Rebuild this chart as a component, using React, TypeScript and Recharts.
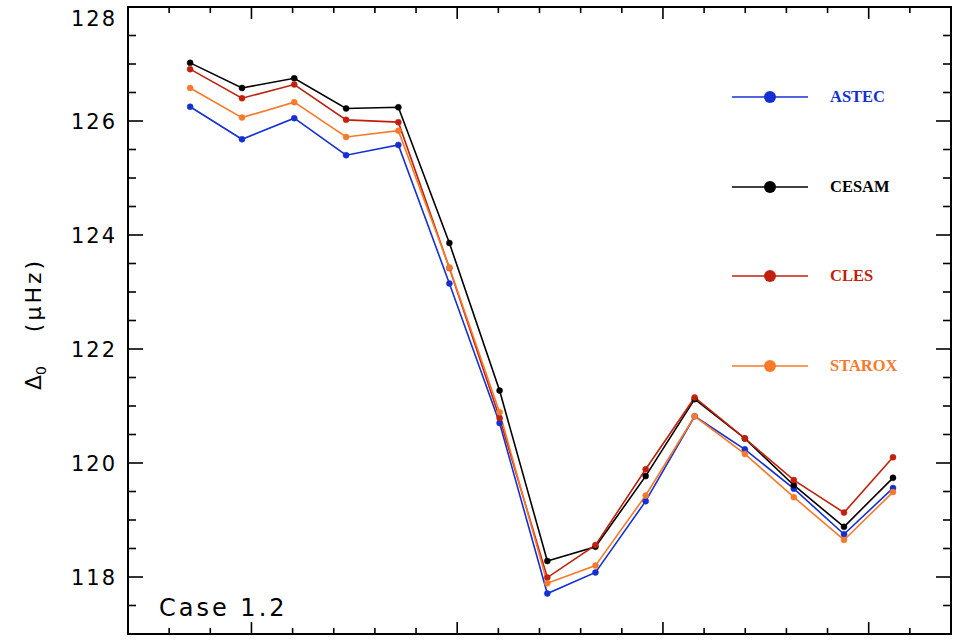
import React from 'react';
import { LineChart, Line, XAxis, YAxis, ReferenceArea, Legend } from 'recharts';

// x positions of the 15 points (axis units, minor tick = 1)
const xPos = [1.51, 2.77, 4.04, 5.3, 6.57, 7.81, 9.03, 10.19, 11.36, 12.58, 13.77, 14.99, 16.18, 17.4, 18.59];

const astec = [126.25, 125.68, 126.05, 125.4, 125.58, 123.15, 120.7, 117.71, 118.08, 119.33, 120.82, 120.24, 119.55, 118.75, 119.56];
const cesam = [127.02, 126.58, 126.75, 126.22, 126.24, 123.86, 121.27, 118.28, 118.53, 119.77, 121.12, 120.43, 119.61, 118.88, 119.74];
const cles = [126.91, 126.4, 126.64, 126.02, 125.98, 123.42, 120.79, 117.99, 118.56, 119.89, 121.15, 120.43, 119.7, 119.13, 120.1];
const starox = [126.58, 126.06, 126.33, 125.72, 125.83, 123.43, 120.89, 117.89, 118.2, 119.43, 120.82, 120.16, 119.4, 118.65, 119.49];

const yMajor = [118, 120, 122, 124, 126, 128];
const yTicks = [117.5, 118, 118.5, 119, 119.5, 120, 120.5, 121, 121.5, 122, 122.5, 123, 123.5, 124, 124.5, 125, 125.5, 126, 126.5, 127, 127.5, 128];
const xMajor = [3, 8, 13, 18];
const xTicks = [1, 2, 3, 4, 5, 6, 7, 8, 9, 10, 11, 12, 13, 14, 15, 16, 17, 18, 19];

const series = [
    { key: 'astec', name: 'ASTEC', color: '#1430d2' },
    { key: 'cesam', name: 'CESAM', color: '#000000' },
    { key: 'cles', name: 'CLES', color: '#c0200c' },
    { key: 'starox', name: 'STAROX', color: '#f77a2a' },
];

const data = xPos.map((x, i) => ({
    x,
    astec: astec[i],
    cesam: cesam[i],
    cles: cles[i],
    starox: starox[i],
}));

const W = 957;
const H = 640;
const M = { top: 7, right: 6, bottom: 5, left: 127 };
const PLOT_W = W - 128 - M.right;
const PLOT_H = H - M.top - 6;

const YTick = (props: any) => {
    const { x, y, payload } = props;
    const v = payload.value;
    const major = yMajor.includes(v);
    const len = major ? 15 : 8;
    return (
        <g>
            <line x1={x} x2={x + len} y1={y} y2={y} stroke="#000" strokeWidth={1.6} />
            <line x1={x + PLOT_W} x2={x + PLOT_W - len} y1={y} y2={y} stroke="#000" strokeWidth={1.6} />
            {major && (
                <text
                    x={x - 11}
                    y={v === 128 ? y + 11 : y}
                    dy="0.36em"
                    textAnchor="end"
                    fontFamily="DejaVu Sans"
                    fontSize={21}
                    letterSpacing={2}
                    fill="#000"
                >
                    {v}
                </text>
            )}
        </g>
    );
};

const XTick = (props: any) => {
    const { x, y, payload } = props;
    const major = xMajor.includes(payload.value);
    const len = major ? 12 : 6;
    return (
        <g>
            <line x1={x} x2={x} y1={y} y2={y - len} stroke="#000" strokeWidth={1.6} />
            <line x1={x} x2={x} y1={y - PLOT_H} y2={y - PLOT_H + len} stroke="#000" strokeWidth={1.6} />
        </g>
    );
};

const YLabel = () => (
    <g fontFamily="DejaVu Sans" fill="#000">
        <text transform="translate(41,378) rotate(-90)" textAnchor="middle" fontSize={22}>
            Δ<tspan fontSize={14} dy={5}>0</tspan>
        </text>
        <text transform="translate(41,295) rotate(-90)" textAnchor="middle" fontSize={22} letterSpacing={3}>
            (μHz)
        </text>
    </g>
);

const CaseLabel = () => (
    <text x={159} y={616} fontFamily="DejaVu Sans" fontSize={24} letterSpacing={3} fill="#000">
        Case 1.2
    </text>
);

const LegendBox = () => (
    <div>
        {series.map(s => (
            <div key={s.key} style={{ height: 89.5, display: 'flex', alignItems: 'flex-start' }}>
                <svg width={78} height={16} style={{ display: 'block' }}>
                    <line x1={0} x2={76} y1={8} y2={8} stroke={s.color} strokeWidth={1.6} />
                    <circle cx={38} cy={8} r={6} fill={s.color} />
                </svg>
                <span
                    style={{
                        marginLeft: 20,
                        color: s.color,
                        fontFamily: 'Liberation Serif',
                        fontWeight: 'bold',
                        fontSize: 16.5,
                        lineHeight: '16px',
                    }}
                >
                    {s.name}
                </span>
            </div>
        ))}
    </div>
);

export default function App() {
    return (
        <div style={{ position: 'absolute', left: 0, top: 0, background: '#fff' }}>
            <LineChart width={W} height={H} data={data} margin={M}>
                <XAxis
                    dataKey="x"
                    type="number"
                    domain={[0, 20]}
                    ticks={xTicks}
                    interval={0}
                    height={1}
                    tickSize={0}
                    tickMargin={0}
                    axisLine={false}
                    tickLine={false}
                    tick={<XTick />}
                    label={<CaseLabel />}
                    allowDataOverflow
                />
                <YAxis
                    type="number"
                    domain={[117, 128]}
                    ticks={yTicks}
                    interval={0}
                    width={1}
                    tickSize={0}
                    tickMargin={0}
                    axisLine={false}
                    tickLine={false}
                    tick={<YTick />}
                    label={<YLabel />}
                    allowDataOverflow
                />
                <ReferenceArea x1={0} x2={20} y1={117} y2={128} fill="none" stroke="#000" strokeWidth={2} />
                {series.map(s => (
                    <Line
                        key={s.key}
                        dataKey={s.key}
                        name={s.name}
                        stroke={s.color}
                        strokeWidth={1.6}
                        dot={{ r: 3, fill: s.color, stroke: s.color, strokeWidth: 0.5 }}
                        isAnimationActive={false}
                    />
                ))}
                <Legend
                    layout="vertical"
                    align="center"
                    verticalAlign="middle"
                    content={<LegendBox />}
                    wrapperStyle={{ left: 732, top: 89, width: 200 }}
                />
            </LineChart>
        </div>
    );
}
